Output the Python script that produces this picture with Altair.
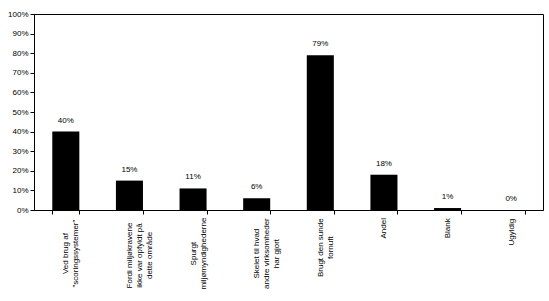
import json
import altair as alt
import pandas as pd

categories = [
    'Ved brug af|"scoringssystemer"',
    "Fordi miljøkravene|ikke var opfyldt på|dette område",
    "Spurgt|miljømyndighederne",
    "Skelet til hvad|andre virksomheder|har gjort",
    "Brugt den sunde|fornuft",
    "Andel",
    "Blank",
    "Ugyldig",
]
values = [0.40, 0.15, 0.11, 0.06, 0.79, 0.18, 0.01, 0.00]
y_ticks = [i / 10 for i in range(11)]

df = pd.DataFrame({"kategori": categories, "andel": values})

FONT = "Liberation Sans"

# per-label padding so each multi-line label block starts just below the axis
def half_len(label):
    longest = max(len(s) for s in label.split("|"))
    return longest * 3.9 / 2

pad_conditions = [
    {"test": "datum.value === " + json.dumps(c), "value": round(4 + half_len(c), 1)}
    for c in categories
]

x_axis = alt.Axis(
    title=None,
    labelAngle=270,
    labelAlign="center",
    labelBaseline="middle",
    labelExpr="split(datum.label, '|')",
    labelFont=FONT,
    labelFontSize=8,
    labelLineHeight=10,
    labelColor="black",
    labelPadding={"condition": pad_conditions, "value": 14},
    labelOverlap=False,
    tickBand="extent",
    tickSize=4,
    tickColor="black",
    domainColor="black",
    labelLimit=200,
)

y_axis = alt.Axis(
    title=None,
    values=y_ticks,
    format=".0%",
    grid=False,
    labelFont=FONT,
    labelFontSize=8,
    labelColor="black",
    labelPadding=2,
    labelOverlap=False,
    labelFlush=False,
    tickSize=4,
    tickColor="black",
    domainColor="black",
)

x_enc = alt.X(
    "kategori:N",
    sort=categories,
    axis=x_axis,
    scale=alt.Scale(paddingInner=0.575, paddingOuter=0.2875),
)
y_enc = alt.Y("andel:Q", axis=y_axis, scale=alt.Scale(domain=[0, 1], nice=False))

base = alt.Chart(df).encode(x=x_enc, y=y_enc)

bars = base.mark_bar(color="black")

text = base.mark_text(
    dy=-7, font=FONT, fontSize=8, color="black", baseline="bottom"
).encode(
    text=alt.Text("andel:Q", format=".0%"),
)

chart = (
    alt.layer(bars, text)
    .properties(
        width=509,
        height=196,
        autosize=alt.AutoSizeParams(type="none"),
        padding={"left": 34, "top": 14, "right": 6, "bottom": 91},
        background="white",
    )
    .configure_view(stroke="black", strokeWidth=1)
)

chart.save("out.html", embed_options={"renderer": "svg", "actions": False})
